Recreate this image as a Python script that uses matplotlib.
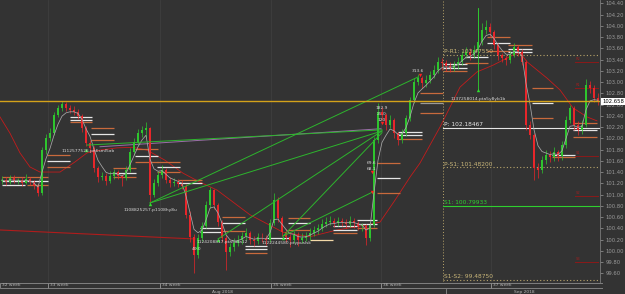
import matplotlib
matplotlib.use("Agg")
import matplotlib.pyplot as plt
import matplotlib.transforms as mtransforms
from matplotlib.patches import Rectangle
import numpy as np
import pandas as pd

# ---- 1. data (one bar per 4 px of the original screenshot) ----
first_open = 101.24
close = [101.26, 101.22, 101.29, 101.24, 101.26, 101.21, 101.28, 101.22, 101.15, 101.03,
         101.79, 102.00, 102.09, 102.41, 102.54, 102.61, 102.54, 102.50, 102.47, 102.40,
         102.18, 101.92, 101.83, 101.47, 101.31, 101.33, 101.24, 101.33, 101.40, 101.33,
         101.29, 101.44, 101.76, 101.93, 102.09, 102.15, 102.18, 100.99, 101.20, 101.35,
         101.44, 101.26, 101.20, 101.22, 101.19, 101.15, 100.64, 100.24, 99.93, 100.23,
         100.44, 100.81, 101.08, 100.81, 100.51, 100.23, 99.97, 100.06, 100.14, 100.19,
         100.26, 100.32, 100.19, 100.17, 100.24, 100.23, 100.19, 100.49, 100.90, 100.58,
         100.33, 100.24, 100.19, 100.28, 100.19, 100.23, 100.26, 100.32, 100.37, 100.40,
         100.48, 100.51, 100.53, 100.49, 100.53, 100.51, 100.48, 100.53, 100.49, 100.44,
         100.44, 100.23, 100.46, 101.97, 102.47, 102.41, 102.24, 102.33, 102.09, 101.97,
         102.09, 102.36, 102.68, 103.00, 103.07, 102.98, 103.04, 103.13, 103.21, 103.36,
         103.34, 103.29, 103.25, 103.30, 103.36, 103.48, 103.53, 103.48, 103.57, 103.71,
         103.93, 103.98, 103.89, 103.66, 103.48, 103.43, 103.39, 103.48, 103.62, 103.53,
         103.36, 102.24, 102.06, 101.47, 101.44, 101.61, 101.70, 101.67, 101.75, 101.68,
         101.88, 102.33, 102.54, 102.24, 102.15, 102.24, 102.95, 102.90, 102.72, 102.66]
high = [101.33, 101.31, 101.35, 101.34, 101.30, 101.31, 101.36, 101.31, 101.25, 101.18,
        101.85, 102.08, 102.18, 102.46, 102.60, 102.67, 102.65, 102.60, 102.58, 102.52,
        102.43, 102.22, 101.97, 101.86, 101.50, 101.40, 101.38, 101.41, 101.46, 101.44,
        101.37, 101.50, 101.82, 102.00, 102.16, 102.22, 102.29, 102.20, 101.27, 101.42,
        101.52, 101.48, 101.32, 101.30, 101.28, 101.25, 101.18, 100.70, 100.30, 100.30,
        100.52, 100.88, 101.14, 101.10, 100.85, 100.55, 100.28, 100.14, 100.22, 100.28,
        100.34, 100.40, 100.36, 100.27, 100.31, 100.32, 100.28, 100.56, 101.02, 100.95,
        100.62, 100.38, 100.30, 100.36, 100.33, 100.31, 100.34, 100.40, 100.44, 100.48,
        100.56, 100.60, 100.62, 100.58, 100.60, 100.59, 100.56, 100.61, 100.58, 100.53,
        100.50, 100.48, 100.52, 102.03, 102.62, 102.55, 102.45, 102.42, 102.36, 102.12,
        102.16, 102.42, 102.74, 103.08, 103.14, 103.10, 103.12, 103.20, 103.30, 103.45,
        103.42, 103.40, 103.35, 103.38, 103.44, 103.56, 103.62, 103.60, 103.66, 104.32,
        104.05, 104.10, 104.05, 103.92, 103.70, 103.52, 103.48, 103.56, 103.70, 103.66,
        103.58, 103.40, 102.30, 102.10, 101.56, 101.68, 101.80, 101.78, 101.84, 101.80,
        101.95, 102.40, 102.60, 102.57, 102.30, 102.32, 103.06, 103.02, 102.94, 102.80]
low = [101.18, 101.17, 101.19, 101.20, 101.19, 101.16, 101.18, 101.17, 101.10, 100.98,
       101.00, 101.72, 101.95, 102.05, 102.38, 102.48, 102.49, 102.45, 102.42, 102.35,
       102.12, 101.86, 101.76, 101.40, 101.22, 101.26, 101.17, 101.20, 101.28, 101.27,
       101.15, 101.25, 101.40, 101.70, 101.88, 102.03, 102.00, 100.85, 100.95, 101.15,
       101.30, 101.20, 101.14, 101.15, 101.13, 101.10, 100.58, 100.15, 99.61, 99.88,
       100.18, 100.40, 100.76, 100.74, 100.44, 100.15, 99.66, 99.90, 100.00, 100.08,
       100.12, 100.20, 100.12, 100.08, 100.12, 100.16, 100.10, 100.15, 100.45, 100.52,
       100.26, 100.16, 100.06, 100.13, 100.08, 100.14, 100.18, 100.20, 100.26, 100.30,
       100.35, 100.42, 100.45, 100.42, 100.44, 100.44, 100.40, 100.43, 100.41, 100.37,
       100.36, 100.10, 100.18, 100.42, 101.92, 102.33, 102.15, 102.18, 102.00, 101.88,
       101.92, 102.04, 102.30, 102.62, 102.94, 102.90, 102.92, 102.99, 103.08, 103.16,
       103.22, 103.20, 103.18, 103.20, 103.24, 103.30, 103.42, 103.40, 103.42, 103.50,
       103.66, 103.86, 103.80, 103.58, 103.40, 103.35, 103.30, 103.33, 103.44, 103.46,
       103.30, 102.15, 101.98, 101.25, 101.30, 101.38, 101.55, 101.58, 101.60, 101.60,
       101.62, 101.82, 102.28, 102.15, 102.05, 102.08, 102.20, 102.80, 102.64, 102.60]
opens = [first_open] + close[:-1]

# long moving average (red curve)
ma_x = [-0.5, 2, 4.5, 7, 9.5, 14.5, 18.25, 21.25, 24.5, 28.75, 32.75, 36.25, 40.75,
        45.25, 49.5, 53.75, 62, 70.25, 77, 83.75, 91.25, 94.5, 98.25, 102, 104.5,
        109.5, 114.5, 118.75, 122.75, 127.75, 129.5, 131.25, 136.25, 139.5, 142.75,
        146.25, 148.75]
ma_y = [102.38, 102.09, 101.74, 101.49, 101.40, 101.40, 101.58, 101.74, 101.79, 101.83,
        101.84, 101.79, 101.61, 101.38, 101.22, 101.08, 100.64, 100.33, 100.25, 100.37,
        100.46, 100.51, 100.90, 101.31, 101.56, 102.20, 102.91, 103.18, 103.30, 103.48,
        103.52, 103.36, 103.07, 102.86, 102.54, 102.38, 102.31]

# green fan lines (x0, p0, x1, p1)
fan_x0 = [21.25, 37, 37, 54, 70.25, 70.25]
fan_p0 = [101.88, 100.85, 100.85, 100.21, 100.26, 100.26]
fan_x1 = [95, 95, 104, 95, 95, 92.5]
fan_p1 = [102.15, 102.13, 103.09, 102.13, 102.10, 101.04]

# short pivot segments: blocks of levels
blk_x0 = [0, 6.25, 11.25, 17, 22.25, 27.75, 33.25, 38.75, 44, 49.5, 55, 60.75, 66.25, 71.5,
          77, 82.75, 88.75, 93.75, 99, 104.5, 110.25, 115.75, 121.25, 126.5, 132.5, 137.5, 142.75]
blk_x1 = [5.75, 11.5, 17, 22.5, 28, 33.5, 39, 44.5, 50, 55, 60.75, 66.25, 71.75, 77,
          82.75, 88.75, 93.75, 99.5, 105, 110.25, 116.25, 121.5, 127, 132.5, 137.75, 143.25, 148.75]
blk_prices = [[101.31, 101.24, 101.17], [101.31, 101.24, 101.17], [101.70, 101.60, 101.49],
              [102.38, 102.33, 102.29], [102.18, 102.08, 101.97], [101.47, 101.38, 101.31],
              [101.81, 101.69, 101.58], [101.58, 101.49, 101.40], [101.26, 101.21],
              [100.40, 100.33], [100.60, 100.49, 100.35], [100.09, 100.03, 99.96],
              [100.23], [100.58, 100.49, 100.37], [100.19], [100.44, 100.37, 100.32],
              [100.55, 100.48, 100.40], [101.56, 101.29, 101.03], [102.11, 102.06, 101.99],
              [102.81, 102.63, 102.45], [103.32, 103.25, 103.20], [103.45, 103.34],
              [103.80, 103.69, 103.55], [103.66, 103.59, 103.53], [102.89, 102.63, 102.36],
              [101.70, 101.67], [102.27, 102.15, 102.02]]
blk_kinds = ["oww", "owo", "owo", "wwo", "owo", "owo", "owo", "owo", "ow", "ww", "owo",
             "wwo", "w", "owo", "c", "wwo", "wwo", "owo", "wwo", "ogo", "wwo", "wo",
             "owo", "oww", "owo", "wo", "owo"]

# weekly pivot levels
piv_names = ["P-R1: 103.47550", "P: 102.18467", "P-S1: 101.48200", "S1: 100.79933", "S1-S2: 99.48750"]
piv_prices = [103.4755, 102.18467, 101.482, 100.79933, 99.4875]
piv_start = 110.25

# daily pivot markers (dark red, right side)
dred_prices = [103.36, 102.90, 101.69, 100.98, 99.80]
dred_labels = ["R2", "R1", "S1", "S2", "S3"]

# arrows and their labels
up_x = [21, 37, 48.75, 54, 70.25, 119]
up_p = [101.80, 100.83, 100.07, 100.19, 100.23, 102.86]
dn_x = [95, 104.5, 92.5, 92.5]
dn_p = [102.27, 103.13, 101.40, 101.04]
lbl_x = [21.5, 37, 48.75, 55, 71, 119, 95, 95, 95, 104, 92.5, 92.5]
lbl_p = [101.78, 100.73, 100.03, 100.16, 100.14, 102.70, 102.54, 102.43, 102.33, 103.20, 101.56, 101.45]
lbl_txt = ["1112577526.pn6sml5ab", "1108825257.p1108hy8u", "40.0", "1124208817.pta5ata12",
           "1122244580.ptypuslsk", "1137258014.pta5y8yb1b", "182.9", "25.0", "120", "313.6",
           "69.6", "68.1"]

last_price = 102.658
week_labels = ["32 week", "33 week", "34 week", "35 week", "36 week", "37 week"]
week_edges = [-0.5, 11.6, 39.5, 67.25, 94.75, 122.25, 150.25]
month_labels = ["Aug 2018", "Sep 2018"]
month_edges = [-0.5, 111, 150.25]

# ---- 2. figure ----
bg = "#333333"
W, H = 625, 294
fig = plt.figure(figsize=(W / 100, H / 100), dpi=100, facecolor=bg)
ax = fig.add_axes([0, 12 / H, 600 / W, 282 / H], facecolor=bg)
ax.set_xlim(-0.5, 149.5)
ax.set_ylim(99.445, 104.459)

for e in week_edges[1:-1]:
    ax.axvline(e, color="#3e3e3e", lw=0.6, zorder=0)

# red MA and old trend line
ax.plot(ma_x, ma_y, color="#c41c1c", lw=0.6, zorder=2)
ax.plot([-0.5, 48.25], [100.37, 100.21], color="#b01c1c", lw=0.8, zorder=2)
ax.plot([24.5, 94.75], [101.85, 102.17], color="#9b6fa8", lw=0.7, zorder=2)

# pivot segments
seg_colors = {"o": "#c86a3c", "w": "#e6e6e6", "g": "#9a9a9a", "c": "#f3d9a8"}
for x0, x1, prices, kinds in zip(blk_x0, blk_x1, blk_prices, blk_kinds):
    for p, k in zip(prices, kinds):
        ax.plot([x0, x1], [p, p], color=seg_colors[k], lw=0.9, zorder=3, solid_capstyle="butt")

# weekly pivots
ax.axvline(piv_start, color="#b8a46a", lw=0.7, ls=(0, (1, 2)), zorder=3)
piv_style = [("#b8a46a", (0, (1, 2)), "#c9b679"), ("#e6e6e6", "-", "#e6e6e6"),
             ("#b8a46a", (0, (1, 2)), "#c9b679"), ("#2fcf2f", "-", "#2fcf2f"),
             ("#b8a46a", (0, (1, 2)), "#c9b679")]
for name, p, (lc, ls, tc) in zip(piv_names, piv_prices, piv_style):
    ax.plot([piv_start, 149.5], [p, p], color=lc, lw=0.8, ls=ls, zorder=3)
    ax.text(piv_start + 0.3, p + 0.015, name, color=tc, fontsize=4.2, va="bottom", ha="left", zorder=6)

for p, t in zip(dred_prices, dred_labels):
    ax.plot([143.25, 149], [p, p], color="#8b1a1a", lw=0.7, zorder=3)
    ax.text(143.4, p + 0.01, t, color="#9b2020", fontsize=2.6, va="bottom", ha="left", zorder=3)

# candles
x = np.arange(len(close))
o = np.array(opens)
c = np.array(close)
hi = np.maximum(np.array(high), np.maximum(o, c))
lo = np.minimum(np.array(low), np.minimum(o, c))
up = c >= o
col = np.where(up, "#2ec52e", "#e8262a")
ax.vlines(x, lo, hi, colors=col, lw=0.5, zorder=4)
body = np.where(np.abs(c - o) < 0.012, 0.012, c - o)
ax.bar(x, body, bottom=o, width=0.5, color=col, linewidth=0, zorder=4)

# smoothed close (gray)
ema = pd.Series(close).ewm(span=4).mean()
ax.plot(x, ema, color="#a8a8a8", lw=0.55, zorder=5)

# green fan lines
for a0, b0, a1, b1 in zip(fan_x0, fan_p0, fan_x1, fan_p1):
    ax.plot([a0, a1], [b0, b1], color="#2db52d", lw=0.7, zorder=5)
ax.plot([119, 119], [102.88, 104.32], color="#2fd02f", lw=0.6, zorder=5)

ax.scatter(up_x, up_p, marker="^", s=6, color="#2fe02f", zorder=7, linewidths=0)
ax.scatter(dn_x, dn_p, marker="v", s=6, color="#ff2020", zorder=7, linewidths=0)
for lx, lp, t in zip(lbl_x, lbl_p, lbl_txt):
    ax.text(lx, lp, t, color="#d8d8d8", fontsize=3.2, ha="center", va="center", zorder=7)

# current price
ax.axhline(last_price, color="#d4a21a", lw=1.0, zorder=8)
trans = mtransforms.blended_transform_factory(ax.transAxes, ax.transData)
ax.text(1.004, last_price, f"{last_price:.3f}", transform=trans, fontsize=3.8, color="black",
        va="center", ha="left", clip_on=False, zorder=9,
        bbox=dict(boxstyle="square,pad=0.18", fc="white", ec="none"))

# right price axis
ax.set_xticks([])
ax.yaxis.tick_right()
ax.set_yticks(np.arange(99.6, 104.41, 0.2))
ax.set_yticklabels([f"{v:.2f}" for v in np.arange(99.6, 104.41, 0.2)])
ax.tick_params(axis="y", direction="out", length=2, width=0.5, colors="#9a9a9a",
               labelsize=3.8, pad=2)
for s in ["top", "left", "bottom"]:
    ax.spines[s].set_visible(False)
ax.spines["right"].set_color("#7a7a7a")
ax.spines["right"].set_linewidth(0.6)

# week strip
axw = fig.add_axes([0, 5 / H, 603 / W, 7 / H], facecolor=bg)
axw.set_xlim(-0.5, 150.25)
axw.set_ylim(0, 1)
axw.axis("off")
for lab, a, b in zip(week_labels, week_edges[:-1], week_edges[1:]):
    axw.add_patch(Rectangle((a, 0.08), b - a, 0.84, fill=False, ec="#8c8c8c", lw=0.6))
    axw.text(a + 0.5, 0.5, lab, color="#b4b4b4", fontsize=3.2, va="center", ha="left")

# month strip
axm = fig.add_axes([0, 0, 603 / W, 5 / H], facecolor=bg)
axm.set_xlim(-0.5, 150.25)
axm.set_ylim(0, 1)
axm.axis("off")
for lab, a, b in zip(month_labels, month_edges[:-1], month_edges[1:]):
    axm.plot([b, b], [0, 1], color="#8c8c8c", lw=0.6)
    axm.text((a + b) / 2, 0.45, lab, color="#b4b4b4", fontsize=3.2, va="center", ha="center")

fig.savefig("out.png", dpi=100, facecolor=bg)
